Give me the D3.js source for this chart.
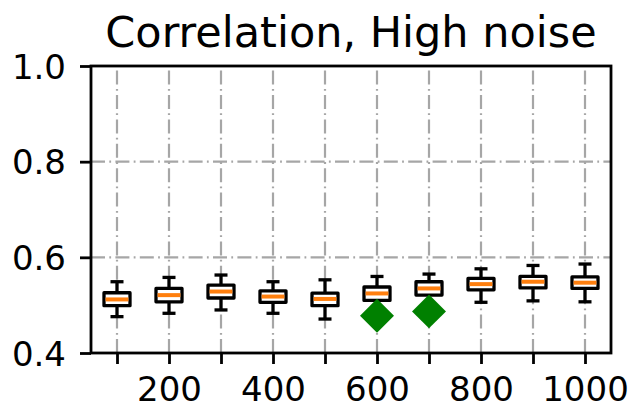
<!DOCTYPE html>
<html><head><meta charset="utf-8">
<script src="https://cdn.jsdelivr.net/npm/d3@7"></script>
<style>body{margin:0;background:#fff}svg{display:block}text{font-family:"DejaVu Sans",sans-serif;fill:#000}</style>
</head><body><svg id="c" width="631" height="413"></svg>
<script>
const positions = [100,200,300,400,500,600,700,800,900,1000];
const whiskerLow = [0.476,0.483,0.490,0.483,0.471,0.487,0.497,0.506,0.509,0.507];
const q1 =        [0.499,0.507,0.515,0.506,0.499,0.510,0.521,0.532,0.536,0.535];
const median =    [0.512,0.521,0.5285,0.518,0.513,0.5245,0.535,0.544,0.549,0.547];
const q3 =        [0.526,0.535,0.542,0.530,0.525,0.538,0.549,0.556,0.560,0.559];
const whiskerHigh=[0.549,0.558,0.563,0.549,0.553,0.560,0.565,0.576,0.583,0.586];
const markerX = [600,700];
const markerY = [0.478,0.487];
const yTicks = [0.4,0.6,0.8,1.0];
const xLabelled = [200,400,600,800,1000];
const title = "Correlation, High noise";

const L=91,R=611,T=66,B=353;
const svg=d3.select("#c");
const x=d3.scaleLinear().domain([50,1050]).range([L,R]);
const y=d3.scaleLinear().domain([0.4,1.0]).range([B,T]);
const grid={stroke:"#a6a6a6",w:2.2,dash:"14,4.3,1.8,4.3"};

// grid
svg.append("g").selectAll("line").data(yTicks).join("line")
  .attr("x1",L).attr("x2",R).attr("y1",d=>y(d)).attr("y2",d=>y(d))
  .attr("stroke",grid.stroke).attr("stroke-width",grid.w).attr("stroke-dasharray",grid.dash);
svg.append("g").selectAll("line").data(positions).join("line")
  .attr("x1",d=>x(d)).attr("x2",d=>x(d)).attr("y1",B).attr("y2",T)
  .attr("stroke",grid.stroke).attr("stroke-width",grid.w).attr("stroke-dasharray",grid.dash);

// boxes
const bw=25; // half width in data units
const cw=12.5;
const g=svg.append("g");
positions.forEach((p,i)=>{
  const line=(x1,y1,x2,y2,c,w)=>g.append("line").attr("x1",x1).attr("y1",y1).attr("x2",x2).attr("y2",y2)
     .attr("stroke",c||"#000").attr("stroke-width",w||3.3);
  line(x(p),y(q3[i]),x(p),y(whiskerHigh[i]));
  line(x(p),y(q1[i]),x(p),y(whiskerLow[i]));
  line(x(p-cw),y(whiskerHigh[i]),x(p+cw),y(whiskerHigh[i]));
  line(x(p-cw),y(whiskerLow[i]),x(p+cw),y(whiskerLow[i]));
  g.append("rect").attr("x",x(p-bw)).attr("width",x(p+bw)-x(p-bw))
    .attr("y",y(q3[i])).attr("height",y(q1[i])-y(q3[i]))
    .attr("fill","#fff").attr("stroke","#000").attr("stroke-width",3.3).attr("stroke-linejoin","round");
  line(x(p-bw)+1.6,y(median[i]),x(p+bw)-1.6,y(median[i]),"#ff7f0e",4);
});

// markers
svg.append("g").selectAll("path").data(markerX).join("path")
  .attr("d",d3.symbol().type(d3.symbolSquare).size(24*24))
  .attr("transform",(d,i)=>`translate(${x(d)},${y(markerY[i])}) rotate(45)`)
  .attr("fill","#008000");

// spines
svg.append("rect").attr("x",L).attr("y",T).attr("width",R-L).attr("height",B-T)
  .attr("fill","none").attr("stroke","#000").attr("stroke-width",2.8);

// y axis
const ya=svg.append("g").attr("transform",`translate(${L},0)`)
  .call(d3.axisLeft(y).tickValues(yTicks).tickFormat(d3.format(".1f")).tickSize(11).tickPadding(14));
ya.select(".domain").remove();
ya.selectAll("line").attr("stroke","#000").attr("stroke-width",2.8);
ya.selectAll("text").attr("font-size",34).attr("font-family","DejaVu Sans").attr("dy","0.36em");

// x axis
const xa=svg.append("g").attr("transform",`translate(0,${B})`)
  .call(d3.axisBottom(x).tickValues(positions).tickFormat(d=>xLabelled.includes(d)?d:"").tickSize(11).tickPadding(13));
xa.select(".domain").remove();
xa.selectAll("line").attr("stroke","#000").attr("stroke-width",2.8);
xa.selectAll("text").attr("font-size",34).attr("font-family","DejaVu Sans").attr("dy","0.71em");

svg.append("text").attr("x",(L+R)/2).attr("y",47).attr("text-anchor","middle")
  .attr("font-size",43).text(title);
</script></body></html>
